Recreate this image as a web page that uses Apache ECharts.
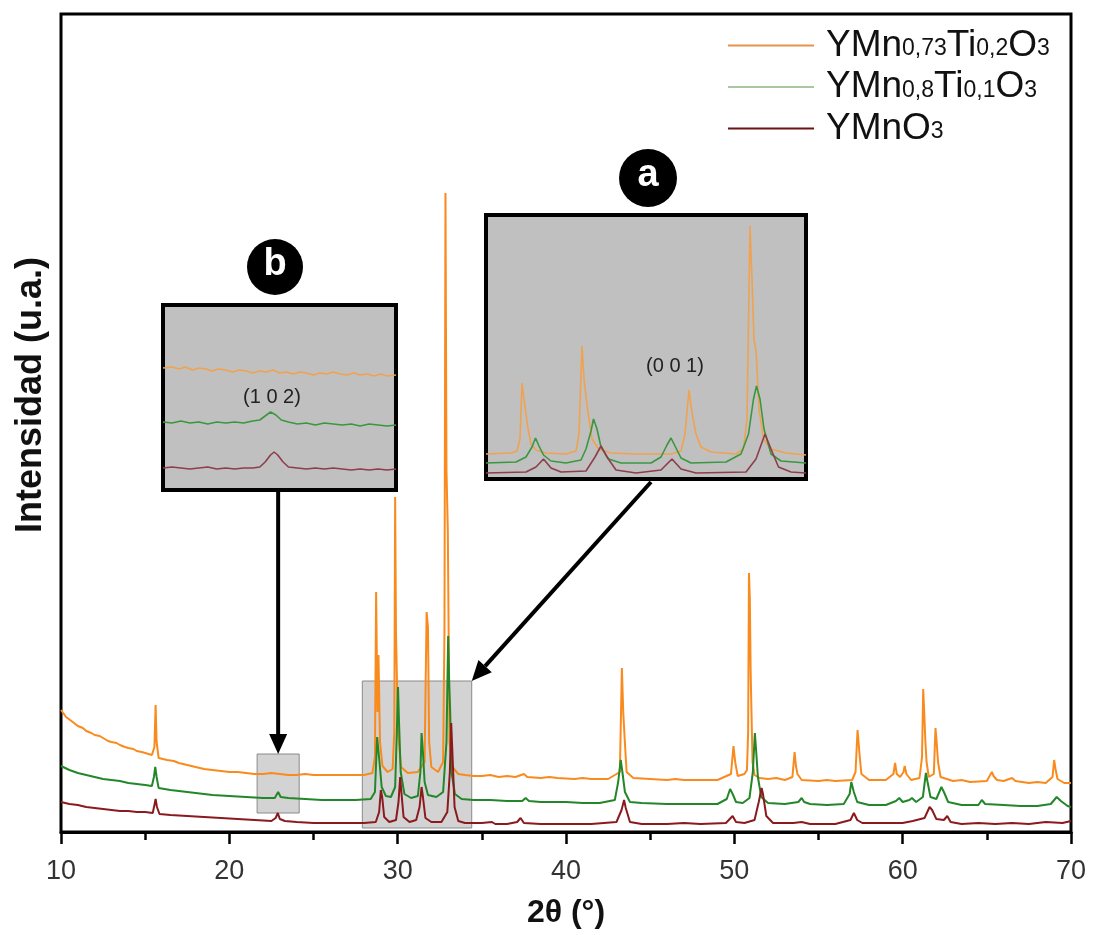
<!DOCTYPE html>
<html>
<head>
<meta charset="utf-8">
<script src="https://cdn.jsdelivr.net/npm/echarts@6/dist/echarts.min.js"></script>
<style>
html, body { margin: 0; padding: 0; background: #fff; }
#chart { width: 1096px; height: 935px; }
</style>
</head>
<body>
<div id="chart"></div>
<script>
// Data (2θ in degrees, intensity in arbitrary units)
const xTicks = [10, 20, 30, 40, 50, 60, 70];
const seriesNames = ["YMn0,73Ti0,2O3", "YMn0,8Ti0,1O3", "YMnO3"];

const ti02 = [
    [10.0,122],[10.3,115],[10.7,110],[11.0,106],[11.3,104],[11.5,101],[11.8,99],[12.0,97],[12.3,96],[12.5,94],[12.8,91],[13.0,90],[13.3,89],
    [13.5,87],[13.8,85],[14.0,84],[14.3,83],[14.5,81],[14.8,80],[15.0,79],[15.4,77],[15.55,85],[15.62,127],[15.68,90],[15.8,74],
    [16.3,72],[16.7,71],[17.0,69],[17.5,67],[18.0,65],[18.5,63],[19.0,62],[19.5,61],[20.0,60],[20.5,60],[21.0,59],[21.5,58],[22.0,58],
    [22.5,59],[23.0,58],[23.5,57],[24.0,57],[24.5,58],[25.0,57],[26.0,57],[27.0,57],[28.0,57],[28.5,59],[28.65,75],[28.72,240],
    [28.8,120],[28.86,177],[28.95,90],[29.1,66],[29.4,60],[29.7,63],[29.8,100],[29.85,335],[29.9,200],[29.95,202],[30.02,100],
    [30.2,65],[30.6,59],[31.2,60],[31.6,70],[31.72,220],[31.8,205],[31.87,90],[32.0,65],[32.4,60],[32.7,70],[32.78,200],[32.84,639],
    [32.9,362],[32.98,300],[33.08,90],[33.25,65],[33.6,58],[34.0,57],[34.5,56],[35.0,56],[35.5,57],[36.0,55],[36.5,56],[37.0,55],
    [37.5,58],[37.7,55],[38.5,54],[39.0,55],[39.5,54],[40.5,53],[41.0,54],[41.5,53],[42.5,53],[43.2,60],[43.32,164],[43.4,120],
    [43.48,95],[43.6,60],[44.0,54],[45.0,53],[46.0,52],[46.5,53],[47.0,52],[48.0,52],[49.0,52],[49.8,58],[49.95,86],[50.05,70],
    [50.2,56],[50.6,58],[50.75,62],[50.82,100],[50.87,259],[50.92,234],[50.97,160],[51.02,119],[51.08,70],[51.2,57],[51.5,54],
    [52.0,53],[52.5,54],[53.0,52],[53.45,55],[53.58,80],[53.66,66],[53.75,58],[54.0,52],[55.0,51],[55.5,52],[56.0,51],[57.0,52],
    [57.2,60],[57.32,102],[57.38,90],[57.45,75],[57.55,58],[58.0,52],[59.0,52],[59.45,58],[59.55,69],[59.65,58],[59.85,55],
    [60.05,60],[60.12,66],[60.22,58],[60.5,52],[61.0,54],[61.15,75],[61.22,143],[61.28,120],[61.35,90],[61.42,70],[61.55,55],
    [61.85,58],[61.95,104],[62.02,90],[62.1,70],[62.25,55],[63.0,51],[63.5,52],[64.0,50],[65.0,51],[65.3,60],[65.4,56],[65.6,52],
    [66.0,51],[66.5,54],[66.7,51],[67.5,49],[68.0,50],[68.5,49],[68.9,55],[69.0,72],[69.08,63],[69.2,53],[69.6,49],[70.0,49]
];

const ti01 = [
    [10.0,66],[10.5,62],[11.0,59],[11.5,57],[12.0,55],[12.5,53],[13.0,52],[13.5,51],[14.0,49],[14.5,48],[15.0,47],[15.4,46],
    [15.52,55],[15.6,65],[15.68,55],[15.8,44],[16.5,42],[17.0,41],[17.5,40],[18.0,39],[19.0,37],[20.0,36],[21.0,35],[22.0,34],
    [22.7,34],[22.9,40],[23.05,35],[23.5,34],[24.5,33],[25.5,32],[26.5,32],[27.5,32],[28.4,33],[28.65,40],[28.78,95],[28.84,97],
    [28.92,70],[29.05,45],[29.3,36],[29.6,35],[29.85,45],[29.95,100],[30.02,145],[30.08,110],[30.18,60],[30.4,38],[30.8,34],
    [31.2,36],[31.35,60],[31.42,99],[31.5,80],[31.6,50],[31.8,37],[32.3,35],[32.7,40],[32.9,90],[33.0,196],[33.06,150],[33.12,120],
    [33.2,60],[33.4,38],[33.8,33],[34.5,32],[35.5,32],[36.5,31],[37.4,31],[37.6,34],[37.8,31],[38.5,30],[40.0,30],[41.0,29],
    [42.0,29],[42.9,32],[43.1,50],[43.25,72],[43.35,60],[43.5,40],[43.8,30],[44.5,29],[46.0,28],[47.5,28],[49.0,28],[49.55,33],
    [49.75,43],[49.9,38],[50.1,30],[50.5,29],[50.9,34],[51.1,60],[51.22,99],[51.28,85],[51.4,55],[51.6,35],[52.0,29],[53.0,28],
    [53.8,30],[54.0,34],[54.15,30],[54.5,28],[55.5,27],[56.5,28],[56.85,38],[56.95,50],[57.1,40],[57.3,30],[58.0,27],[59.0,27],
    [59.6,31],[59.8,34],[60.0,30],[60.4,32],[60.55,34],[60.8,30],[61.2,35],[61.38,59],[61.48,50],[61.65,35],[62.0,33],[62.3,45],
    [62.45,40],[62.7,30],[63.5,27],[64.5,27],[64.7,32],[64.9,28],[66.0,27],[67.0,26],[68.0,26],[68.8,28],[69.15,35],[69.4,31],
    [69.8,26],[70.0,25]
];

const pure = [
    [10.0,30],[10.5,28],[11.0,27],[11.5,25],[12.0,24],[12.5,23],[13.0,22],[13.5,21],[14.0,21],[14.5,20],[15.0,20],[15.45,19],
    [15.55,27],[15.62,33],[15.7,25],[15.85,18],[16.5,17],[17.5,16],[18.5,15],[19.5,14],[20.5,13],[21.5,12],[22.5,11],[22.75,14],
    [22.88,19],[23.0,13],[23.3,11],[24.0,10],[25.0,9],[26.0,9],[27.0,9],[28.0,9],[28.7,10],[28.9,20],[29.0,42],[29.08,35],
    [29.2,15],[29.5,10],[29.9,12],[30.05,30],[30.15,55],[30.22,40],[30.35,15],[30.7,10],[31.1,12],[31.3,25],[31.42,45],[31.5,35],
    [31.65,14],[32.0,10],[32.6,10],[32.95,20],[33.1,60],[33.18,109],[33.25,80],[33.38,25],[33.6,11],[34.0,9],[35.0,9],[35.6,10],
    [35.8,8],[36.5,8],[37.1,10],[37.3,14],[37.5,9],[38.5,8],[40.0,8],[41.5,8],[43.0,10],[43.3,22],[43.45,32],[43.55,24],[43.8,10],
    [44.5,8],[46.0,8],[47.0,9],[48.0,8],[49.5,9],[49.9,16],[50.1,10],[50.6,9],[51.2,12],[51.45,30],[51.62,44],[51.7,38],[51.9,16],
    [52.3,9],[53.5,9],[54.0,10],[54.5,8],[56.0,8],[56.9,12],[57.1,19],[57.3,12],[57.6,9],[59.0,9],[60.0,9],[60.6,11],[61.3,14],
    [61.6,25],[61.75,22],[62.0,13],[62.45,12],[62.65,16],[62.85,10],[63.5,8],[64.5,9],[65.5,8],[66.5,9],[67.5,8],[68.5,10],
    [69.5,9],[70.0,11]
];

// inset a: zoom on 28-34.4°
const insetARange = [28.0, 34.4];
const insetATi02 = [
    [28.0,25],[28.5,26],[28.62,28],[28.68,40],[28.72,96],[28.76,80],[28.8,65],[28.84,50],[28.9,35],[29.0,29],[29.2,26],[29.6,25],
    [29.8,28],[29.86,45],[29.92,133],[29.96,100],[30.0,82],[30.06,60],[30.12,40],[30.25,30],[30.5,26],[31.0,25],[31.7,25],
    [31.9,28],[31.98,45],[32.06,89],[32.12,66],[32.2,45],[32.3,32],[32.5,27],[33.0,25],[33.15,30],[33.22,60],[33.28,253],
    [33.32,200],[33.36,139],[33.4,129],[33.46,70],[33.55,40],[33.7,30],[34.0,26],[34.4,24]
];
const insetATi01 = [
    [28.0,16],[28.6,17],[28.8,22],[28.92,32],[28.99,41],[29.06,33],[29.15,24],[29.3,18],[29.6,16],[29.9,19],[30.0,30],[30.1,48],
    [30.15,60],[30.22,50],[30.3,32],[30.45,20],[30.7,16],[31.3,16],[31.5,22],[31.62,34],[31.7,41],[31.78,33],[31.9,21],[32.1,16],
    [32.8,17],[33.1,25],[33.25,45],[33.35,80],[33.41,93],[33.48,80],[33.56,50],[33.7,25],[33.9,18],[34.4,16]
];
const insetAPure = [
    [28.0,6],[28.8,7],[29.0,12],[29.15,20],[29.3,11],[29.5,7],[30.0,8],[30.18,22],[30.3,33],[30.42,22],[30.6,9],[31.0,6],
    [31.5,9],[31.72,20],[31.9,10],[32.2,6],[33.2,7],[33.4,20],[33.58,45],[33.7,30],[33.85,12],[34.1,7],[34.4,6]
];

// inset b: zoom on 21.6-24.2°
const insetBRange = [21.6, 24.2];
const insetBTi02 = [
    [21.6,122],[21.7,123],[21.78,121],[21.85,123],[21.93,120],[22.0,122],[22.08,121],[22.15,119],[22.22,121],[22.3,120],
    [22.38,118],[22.45,120],[22.53,119],[22.6,117],[22.68,119],[22.75,118],[22.83,120],[22.9,117],[22.98,118],[23.05,116],
    [23.13,118],[23.2,117],[23.28,115],[23.35,117],[23.43,116],[23.5,118],[23.58,116],[23.65,115],[23.73,117],[23.8,115],
    [23.88,116],[23.95,114],[24.03,116],[24.1,114],[24.2,115]
];
const insetBTi01 = [
    [21.6,68],[21.7,67],[21.8,69],[21.9,67],[22.0,68],[22.1,66],[22.2,68],[22.3,67],[22.4,68],[22.5,67],[22.6,69],[22.68,70],
    [22.74,74],[22.8,78],[22.86,75],[22.92,70],[23.0,68],[23.1,66],[23.2,67],[23.3,65],[23.4,67],[23.5,66],[23.6,65],[23.7,66],
    [23.8,64],[23.9,66],[24.0,65],[24.1,64],[24.2,65]
];
const insetBPure = [
    [21.6,22],[21.7,23],[21.8,22],[21.9,21],[22.0,22],[22.1,23],[22.2,21],[22.3,22],[22.4,21],[22.5,22],[22.6,22],[22.68,23],
    [22.74,28],[22.8,35],[22.84,38],[22.88,35],[22.94,28],[23.0,23],[23.1,22],[23.2,21],[23.3,22],[23.4,21],[23.5,22],[23.6,21],
    [23.7,20],[23.8,21],[23.9,20],[24.0,21],[24.1,20],[24.2,21]
];

// highlighted regions on the main pattern [x0, y0, x1, y1]
const boxA = [27.9, 4, 34.4, 151];
const boxB = [21.65, 19, 24.15, 78];

// Styling
const FONT = "Liberation Sans, Arial, sans-serif";
const mainColors = ["#f98b1e", "#23872a", "#8b1a1f"];
const insetColors = ["#f0a24f", "#3a973f", "#8e3d4c"];
const legendColors = ["#e8914a", "#a9c8a2", "#6b1212"];
const legendRich = {
    "YMn0,73Ti0,2O3": "{b|YMn}{s|0,73}{b|Ti}{s|0,2}{b|O}{s|3}",
    "YMn0,8Ti0,1O3": "{b|YMn}{s|0,8}{b|Ti}{s|0,1}{b|O}{s|3}",
    "YMnO3": "{b|YMnO}{s|3}"
};

const chart = echarts.init(document.getElementById("chart"), null, { renderer: "canvas" });

function mainLine(name, data, color, extra) {
    return Object.assign({
        name: name, type: "line", data: data, symbol: "none",
        xAxisIndex: 0, yAxisIndex: 0,
        lineStyle: { color: color, width: 2 }, itemStyle: { color: color },
        animation: false, z: 3
    }, extra || {});
}
function insetLine(name, data, color, idx) {
    return {
        name: name, type: "line", data: data, symbol: "none",
        xAxisIndex: idx, yAxisIndex: idx,
        lineStyle: { color: color, width: 1.6 }, itemStyle: { color: color },
        animation: false, z: 5
    };
}
const grayArea = {
    silent: true,
    itemStyle: { color: "rgba(140,140,140,0.38)", borderColor: "#8a8a8a", borderWidth: 1 },
    data: [
        [{ coord: [boxA[0], boxA[1]] }, { coord: [boxA[2], boxA[3]] }],
        [{ coord: [boxB[0], boxB[1]] }, { coord: [boxB[2], boxB[3]] }]
    ]
};

const hiddenAxis = (gi, min, max) => ({
    gridIndex: gi, type: "value", min: min, max: max, show: false,
    splitLine: { show: false }
});

const option = {
    backgroundColor: "#fff",
    animation: false,
    textStyle: { fontFamily: FONT },
    grid: [
        { left: 61, top: 14, right: 25, bottom: 103, show: true, borderColor: "#000", borderWidth: 3, z: 1 },
        { left: 486, top: 215, width: 320, height: 264, show: true, backgroundColor: "#c0c0c0", borderColor: "#000", borderWidth: 4, z: 4 },
        { left: 163, top: 305, width: 233, height: 185, show: true, backgroundColor: "#c0c0c0", borderColor: "#000", borderWidth: 4, z: 4 }
    ],
    xAxis: [
        {
            gridIndex: 0, type: "value",
            min: xTicks[0], max: xTicks[xTicks.length - 1], interval: xTicks[1] - xTicks[0],
            axisLine: { show: true, onZero: false, lineStyle: { color: "#000", width: 3 } },
            axisTick: { show: true, inside: false, length: 12, lineStyle: { color: "#000", width: 2.5 } },
            minorTick: { show: true, splitNumber: 2, length: 8, lineStyle: { color: "#000", width: 2.5 } },
            splitLine: { show: false },
            axisLabel: { fontSize: 27, color: "#333", margin: 26, fontFamily: FONT },
            name: "2θ (°)", nameLocation: "middle", nameGap: 65,
            nameTextStyle: { fontSize: 32, fontWeight: "bold", color: "#111", fontFamily: FONT }
        },
        hiddenAxis(1, insetARange[0], insetARange[1]),
        hiddenAxis(2, insetBRange[0], insetBRange[1])
    ],
    yAxis: [
        {
            gridIndex: 0, type: "value", min: 0, max: 818,
            axisLine: { show: false }, axisTick: { show: false },
            axisLabel: { show: false }, splitLine: { show: false }
        },
        hiddenAxis(1, 0, 264),
        hiddenAxis(2, 0, 185)
    ],
    legend: {
        orient: "vertical", left: 723, top: 22,
        itemWidth: 86, itemHeight: 14, itemGap: 3,
        icon: "path://M0,6 L86,6 L86,8 L0,8 Z",
        data: seriesNames.map((n, i) => ({ name: n, itemStyle: { color: legendColors[i] } })),
        formatter: n => legendRich[n],
        textStyle: {
            padding: [0, 0, 0, 7],
            rich: {
                b: { fontSize: 37, fontFamily: FONT, color: "#111", lineHeight: 40 },
                s: { fontSize: 23, fontFamily: FONT, color: "#111", lineHeight: 40, verticalAlign: "bottom", padding: [0, 0, 5, 0] }
            }
        }
    },
    series: [
        mainLine(seriesNames[0], ti02, mainColors[0]),
        mainLine(seriesNames[1], ti01, mainColors[1]),
        mainLine(seriesNames[2], pure, mainColors[2], { markArea: grayArea }),
        insetLine("a0", insetATi02, insetColors[0], 1),
        insetLine("a1", insetATi01, insetColors[1], 1),
        insetLine("a2", insetAPure, insetColors[2], 1),
        insetLine("b0", insetBTi02, insetColors[0], 2),
        insetLine("b1", insetBTi01, insetColors[1], 2),
        insetLine("b2", insetBPure, insetColors[2], 2)
    ]
};

chart.setOption(option);

// annotations: badges, inset labels, arrows from inset to highlighted box
function arrow(x1, y1, x2, y2) {
    const dx = x2 - x1, dy = y2 - y1;
    const len = Math.sqrt(dx * dx + dy * dy);
    const ux = dx / len, uy = dy / len;
    const headLen = 20, headHalf = 9;
    const bx = x2 - ux * headLen, by = y2 - uy * headLen;
    return [
        { type: "line", z: 20, shape: { x1: x1, y1: y1, x2: bx, y2: by }, style: { stroke: "#000", lineWidth: 4 } },
        { type: "polygon", z: 20, shape: { points: [[x2, y2], [bx - uy * headHalf, by + ux * headHalf], [bx + uy * headHalf, by - ux * headHalf]] }, style: { fill: "#000" } }
    ];
}
function badge(cx, cy, r, letter) {
    return [
        { type: "circle", z: 20, shape: { cx: cx, cy: cy, r: r }, style: { fill: "#000" } },
        { type: "text", z: 21, x: cx, y: cy - 2, style: { text: letter, fill: "#fff", font: "bold 38px " + FONT, textAlign: "center", textVerticalAlign: "middle", verticalAlign: "middle" } }
    ];
}
function label(x, y, text) {
    return { type: "text", z: 21, x: x, y: y, style: { text: text, fill: "#222", font: "20px " + FONT, textAlign: "center", textVerticalAlign: "middle", verticalAlign: "middle" } };
}

const tipB = chart.convertToPixel({ gridIndex: 0 }, [(boxB[0] + boxB[2]) / 2, boxB[3]]);
const tipA = chart.convertToPixel({ gridIndex: 0 }, [boxA[2], boxA[3]]);

const graphics = []
    .concat(arrow(tipB[0], 492, tipB[0], tipB[1]))
    .concat(arrow(651, 482, tipA[0], tipA[1]))
    .concat(badge(648, 178, 29, "a"))
    .concat(badge(275, 267, 28, "b"))
    .concat([
        label(675, 366, "(0 0 1)"),
        label(272, 397, "(1 0 2)"),
        {
            type: "text", z: 21, x: 31, y: 395, rotation: Math.PI / 2,
            style: { text: "Intensidad (u.a.)", fill: "#111", font: "bold 36px " + FONT, textAlign: "center", textVerticalAlign: "middle", verticalAlign: "middle" }
        }
    ]);

chart.setOption({ graphic: graphics });
</script>
</body>
</html>
